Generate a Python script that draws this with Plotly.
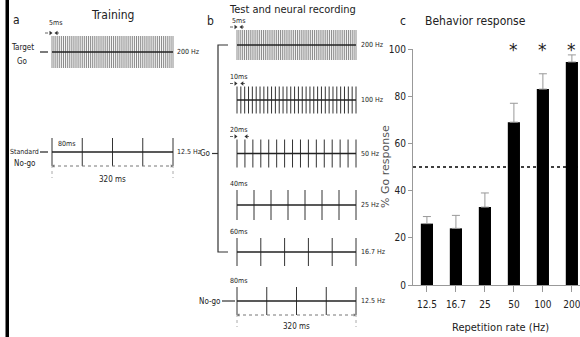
import plotly.graph_objects as go

W, H = 580, 337
NARROW = "DejaVu Sans Condensed, Liberation Sans Narrow, Arial Narrow, sans-serif"

# ---------------- Panel c data ----------------
rate_labels = ["12.5", "16.7", "25", "50", "100", "200"]
go_response = [26, 24, 33, 69, 83, 94.5]
go_sem = [3, 5.5, 6, 8, 6.5, 3]
significant = [False, False, False, True, True, True]
chance_level = 50
y_ticks = [0, 20, 40, 60, 80, 100]

# ---------------- Panel a data ----------------
training_labels = ["200 Hz", "12.5 Hz"]
training_pulses = [64, 5]
training_interval = ["5ms", "80ms"]
training_names = [["Target", "Go"], ["Standard", "No-go"]]

# ---------------- Panel b data ----------------
test_labels = ["200 Hz", "100 Hz", "50 Hz", "25 Hz", "16.7 Hz", "12.5 Hz"]
test_pulses = [64, 32, 16, 8, 6, 5]
test_interval = ["5ms", "10ms", "20ms", "40ms", "60ms", "80ms"]
train_duration = "320 ms"

# ---------------- layout constants (pixels) ----------------
A_X0, A_X1 = 52, 173
A_ROWS = [(52, 16), (152, 14)]
B_X0, B_X1 = 237, 356
B_ROWS = [(45, 15), (100, 13.5), (153.5, 14), (205, 15), (252, 14), (301, 14)]

fig = go.Figure()
ann = []


def txt(x, y, s, size=7, anchor="center", color="#222", family=NARROW, angle=0, yanchor="middle"):
    ann.append(dict(x=x, y=y, xref="x2", yref="y2", text=s, showarrow=False,
                    xanchor=anchor, yanchor=yanchor, textangle=angle,
                    font=dict(family=family, size=size, color=color)))


def seg(xs, ys, color="#222", width=1, dash="solid"):
    fig.add_trace(go.Scatter(x=xs, y=ys, mode="lines", xaxis="x2", yaxis="y2",
                             line=dict(color=color, width=width, dash=dash),
                             hoverinfo="skip", showlegend=False))


def train(x0, x1, yc, hh, n):
    step = (x1 - x0) / (n - 1)
    xs, ys = [], []
    for i in range(n):
        x = x0 + i * step
        xs += [x, x, None]
        ys += [yc - hh, yc + hh, None]
    color = "#8a8a8a" if n > 40 else "#333333"
    seg(xs, ys, color=color, width=1)
    seg([x0, x1], [yc, yc], color="#222", width=1.6)
    return step


def interval_arrows(x0, step, y):
    d = max(step, 3)
    seg([x0 - 7, x0 - 1], [y, y], color="#666", width=1, dash="dot")
    seg([x0 + d + 1, x0 + d + 7], [y, y], color="#666", width=1, dash="dot")
    fig.add_trace(go.Scatter(x=[x0 - 1.5, x0 + d + 1.5], y=[y, y], mode="markers",
                             xaxis="x2", yaxis="y2", hoverinfo="skip", showlegend=False,
                             marker=dict(symbol=["triangle-right", "triangle-left"], size=4,
                                         color="#333")))


def duration(x0, x1, y, ylab):
    seg([x0, x1], [y, y], color="#777", width=1, dash="dot")
    seg([x0, x0, None, x1, x1], [y - 1, y + 12, None, y - 1, y + 12], color="#aaa", width=1, dash="dot")
    fig.add_trace(go.Scatter(x=[x0 + 1.5, x1 - 1.5], y=[y, y], mode="markers",
                             xaxis="x2", yaxis="y2", hoverinfo="skip", showlegend=False,
                             marker=dict(symbol=["triangle-left", "triangle-right"], size=3,
                                         color="#777")))
    txt((x0 + x1) / 2, ylab, train_duration, size=8)


# left black bar
fig.add_shape(type="rect", xref="x2", yref="y2", x0=5.5, x1=9, y0=0, y1=H,
              fillcolor="black", line=dict(width=0))

# ---------------- Panel a ----------------
txt(16, 20, "a", size=12)
txt(112, 15, "Training", size=12)
for k, (yc, hh) in enumerate(A_ROWS):
    step = train(A_X0, A_X1, yc, hh, training_pulses[k])
    txt(A_X1 + 1.5, yc, training_labels[k], anchor="left")
    seg([40, 48], [yc, yc], color="#222", width=1.2)
    if k == 0:
        txt(22, yc - 5, training_names[k][0], size=8)
        txt(22, yc + 9, training_names[k][1], size=8)
        interval_arrows(A_X0, step, yc - hh - 3)
        txt(A_X0 + 3, yc - hh - 13, training_interval[k])
    else:
        txt(24, yc, training_names[k][0], size=7)
        txt(25, yc + 11, training_names[k][1], size=8)
        txt(A_X0 + 14, yc - 8, training_interval[k])
        duration(A_X0, A_X1, yc + hh, yc + hh + 13)

# ---------------- Panel b ----------------
txt(210, 21, "b", size=12)
txt(292, 9, "Test and neural recording", size=11)
for k, (yc, hh) in enumerate(B_ROWS):
    step = train(B_X0, B_X1, yc, hh, test_pulses[k])
    txt(B_X1 + 2.5, yc, test_labels[k], anchor="left")
    top = yc - hh
    if k < 3:
        interval_arrows(B_X0, step, top - 3)
        txt(B_X0 + 1, top - 9.5, test_interval[k])
    else:
        txt(B_X0 + 1, top - 6, test_interval[k])
    if k == len(B_ROWS) - 1:
        duration(B_X0, B_X1, yc + hh, yc + hh + 11)

# Go bracket
go_top, go_bot = B_ROWS[0][0], B_ROWS[4][0]
seg([228, 218, 218, 228], [go_top, go_top, go_bot, go_bot], color="#333", width=1.2)
go_mid = B_ROWS[2][0]
seg([212, 218], [go_mid, go_mid], color="#333", width=1.2)
txt(205.5, go_mid, "Go", size=8)
nogo_y = B_ROWS[5][0]
txt(210, nogo_y, "No-go", size=8)
seg([222, 235], [nogo_y, nogo_y], color="#333", width=1.2)

# ---------------- Panel c ----------------
txt(403, 21, "c", size=12)
txt(475, 21, "Behavior response", size=12)
x_idx = list(range(len(rate_labels)))
fig.add_trace(go.Bar(x=x_idx, y=go_response, width=0.42, xaxis="x", yaxis="y",
                     marker=dict(color="black", line=dict(width=0)), showlegend=False,
                     error_y=dict(type="data", symmetric=False, array=go_sem,
                                  arrayminus=[0] * len(go_sem), color="#999",
                                  thickness=1, width=4)))
fig.add_shape(type="line", xref="x domain", yref="y", x0=0, x1=1,
              y0=chance_level, y1=chance_level,
              line=dict(color="black", width=1.5, dash="dot"))
for i, s in enumerate(significant):
    if s:
        ann.append(dict(x=i, y=50, xref="x", yref="y2", text="*", showarrow=False,
                        yanchor="middle", font=dict(family="DejaVu Sans", size=17, color="#222")))
txt(385, 167, "% Go response", size=11, family="DejaVu Sans", color="#555", angle=-90)
txt(500, 327, "Repetition rate (Hz)", size=11)

fig.update_layout(
    width=W, height=H, margin=dict(l=0, r=0, t=0, b=0, autoexpand=False),
    paper_bgcolor="white", plot_bgcolor="rgba(0,0,0,0)", showlegend=False,
    annotations=ann,
    xaxis=dict(domain=[413 / W, 1], range=[-0.48, 5.28], tickmode="array",
               tickvals=x_idx, ticktext=rate_labels, ticks="outside", ticklen=6,
               tickcolor="#999", showline=True, linecolor="#999", linewidth=1,
               showgrid=False, zeroline=False, ticklabelstandoff=4,
               ticklabeloverflow="allow",
               tickfont=dict(family=NARROW, size=10, color="#222"), anchor="y"),
    yaxis=dict(domain=[1 - 285 / H, 1 - 49 / H], range=[0, 100], tickmode="array",
               tickvals=y_ticks, ticks="outside", ticklen=4, tickcolor="#999",
               showline=True, linecolor="#999", linewidth=1, showgrid=False,
               zeroline=False, tickfont=dict(family=NARROW, size=10, color="#222"),
               anchor="x"),
    xaxis2=dict(domain=[0, 1], range=[0, W], visible=False, anchor="y2", fixedrange=True),
    yaxis2=dict(domain=[0, 1], range=[H, 0], visible=False, anchor="x2", fixedrange=True),
)

fig.write_html("out.html", config={"displayModeBar": False},
               post_script="document.body.style.margin='0';document.body.style.padding='0';"
                           "document.body.style.overflow='hidden';")
